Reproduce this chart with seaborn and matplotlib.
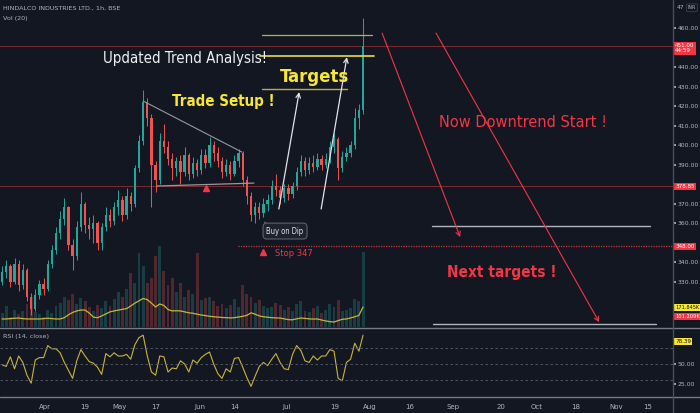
import numpy as np
import pandas as pd
import matplotlib
matplotlib.use("Agg")
import matplotlib.pyplot as plt
import seaborn as sns
from matplotlib import font_manager
from matplotlib.lines import Line2D

# ---------------- data (daily candles) ----------------
opens = [330, 335, 338, 330, 339, 328, 336, 322, 316, 323, 329, 326, 339, 346, 355,
         362, 368, 349, 343, 358, 370, 359, 357, 360, 350, 358, 364, 361, 368, 372,
         364, 374, 370, 388, 402, 422, 414, 390, 382, 402, 399, 393, 388, 392, 386,
         395, 385, 391, 387, 395, 391, 400, 396, 392, 386, 390, 385, 392, 396, 382,
         374, 364, 368, 365, 370, 372, 379, 377, 373, 378, 375, 379, 386, 392, 387,
         391, 389, 393, 390, 393, 399, 403, 388, 394, 396, 400, 414, 418]
highs = [338, 341, 339, 342, 341, 339, 337, 324, 326, 331, 332, 341, 349, 358, 366,
         373, 369, 352, 361, 376, 371, 363, 364, 361, 360, 368, 367, 371, 377, 374,
         378, 376, 390, 405, 428, 424, 416, 392, 406, 411, 402, 396, 394, 395, 399,
         396, 394, 393, 398, 398, 404, 402, 399, 394, 393, 392, 395, 398, 397, 384,
         376, 371, 371, 373, 375, 382, 385, 379, 380, 380, 381, 389, 395, 394, 394,
         395, 396, 395, 396, 402, 406, 404, 397, 399, 402, 419, 421, 465]
lows = [328, 332, 327, 329, 325, 326, 320, 313, 315, 321, 323, 325, 337, 344, 352,
        359, 346, 336, 341, 356, 355, 352, 350, 346, 346, 356, 358, 359, 364, 361,
        362, 366, 368, 386, 400, 410, 368, 376, 380, 396, 390, 382, 384, 380, 384,
        382, 383, 384, 385, 388, 389, 392, 389, 383, 384, 382, 384, 389, 379, 370,
        361, 360, 362, 363, 366, 370, 374, 370, 371, 372, 373, 377, 384, 384, 385,
        386, 387, 387, 388, 391, 396, 382, 386, 392, 394, 398, 408, 416]
closes = [335, 338, 330, 339, 328, 336, 322, 316, 323, 329, 326, 339, 346, 355, 362,
          368, 349, 343, 358, 370, 359, 357, 360, 350, 358, 364, 361, 368, 372, 364,
          374, 370, 388, 402, 422, 414, 390, 382, 402, 399, 393, 388, 392, 386, 395,
          385, 391, 387, 395, 391, 400, 396, 392, 386, 390, 385, 392, 396, 382, 374,
          364, 368, 365, 370, 372, 379, 377, 373, 378, 375, 379, 386, 392, 387, 391,
          389, 393, 390, 393, 399, 403, 388, 394, 396, 400, 414, 418, 451]
volume_k = [120, 180, 90, 150, 110, 140, 200, 260, 130, 110, 90,
            150, 120, 180, 210, 260, 230, 280, 200, 250, 220,
            170, 140, 190, 160, 220, 180, 240, 300, 260, 330,
            460, 380, 640, 520, 380, 420, 610, 700, 480, 360,
            420, 300, 380, 260, 320, 280, 640, 230, 250, 260,
            220, 180, 200, 160, 190, 240, 170, 360, 280, 260,
            210, 230, 180, 160, 170, 210, 190, 150, 170, 140,
            200, 220, 140, 130, 160, 180, 120, 150, 200, 170,
            230, 140, 150, 160, 240, 220, 645]
volume_ma_k = [69, 69, 72, 75, 77, 72, 69, 69, 69, 69, 72, 75, 72, 69, 69,
               80, 105, 125, 138, 146, 146, 120, 85, 80, 95, 112, 130, 138, 145, 152,
               158, 180, 205, 225, 245, 235, 205, 172, 198, 185, 150, 138, 140, 138, 130,
               122, 118, 110, 103, 98, 92, 88, 85, 82, 80, 78, 80, 86, 92, 100,
               122, 110, 95, 88, 84, 80, 78, 77, 70, 63, 62, 70, 77, 74, 70,
               68, 69, 60, 52, 46, 43, 55, 66, 69, 78, 88, 100, 172]
rsi = [49, 47, 59, 44, 60, 52, 36, 26, 55, 58, 58, 73, 69, 69, 64,
       52, 42, 32, 54, 68, 60, 53, 51, 46, 37, 63, 59, 64, 60, 60,
       62, 56, 74, 83, 86, 60, 40, 36, 60, 59, 40, 45, 44, 54, 50,
       40, 55, 51, 58, 62, 65, 50, 38, 32, 44, 40, 57, 58, 46, 33,
       22, 35, 47, 52, 48, 56, 63, 52, 44, 43, 62, 73, 67, 54, 52,
       60, 55, 60, 60, 68, 66, 32, 29, 52, 56, 76, 66, 86]

x_tick_pos = [10.4, 20.0, 28.4, 37.1, 47.7, 56.1, 68.7, 80.2, 88.7, 98.3,
              108.7, 120.2, 128.9, 138.3, 147.9, 155.7]
x_tick_labels = ["Apr", "19", "May", "17", "Jun", "14", "Jul", "19", "Aug", "16",
                 "Sep", "20", "Oct", "18", "Nov", "15"]
price_ticks = [330, 340, 360, 370, 390, 400, 410, 420, 430, 440, 460]
rsi_ticks = [25, 50]

last_price = 451.00
support_price = 378.85
stop_price = 348.00
vol_ma_last = "171.845K"
vol_last = "101.209K"
rsi_last = 78.39

df = pd.DataFrame({"i": np.arange(len(closes)), "open": opens, "high": highs,
                   "low": lows, "close": closes, "vol": volume_k,
                   "vol_ma": volume_ma_k, "rsi": rsi})

# ---------------- style ----------------
BG = "#131722"
UP = "#26a69a"
DN = "#ef5350"
TXT = "#b2b5be"
YEL = "#f7e733"
RED = "#f23645"
SEP = "#4a4e59"

sns.set_theme(style="dark", rc={"axes.facecolor": BG, "figure.facecolor": BG,
                                "axes.edgecolor": BG, "text.color": TXT,
                                "xtick.color": TXT, "ytick.color": TXT})
plt.rcParams["font.family"] = ["DejaVu Sans"]

names = {f.name for f in font_manager.fontManager.ttflist}
if "Liberation Sans Narrow" in names:
    AF = dict(family="Liberation Sans Narrow")
    k = 1.0
else:
    AF = dict(family="DejaVu Sans", fontstretch="condensed")
    k = 0.83

fig = plt.figure(figsize=(7.0, 4.13), dpi=100)
W, H = 700, 413
ax = fig.add_axes([0, 86 / H, 673 / W, 327 / H])
axr = fig.add_axes([0, 17 / H, 673 / W, 68 / H], sharex=ax)
axv = ax.twinx()
axv.set_zorder(0)
ax.set_zorder(1)
ax.patch.set_visible(False)
axv.patch.set_facecolor(BG)

XMIN, XMAX = -0.5, 161.7
ax.set_xlim(XMIN, XMAX)
ax.set_ylim(306.7, 474.4)
axv.set_ylim(0, 2810)
axr.set_ylim(10, 95)

# volume
vcol = [UP if c >= o else DN for o, c in zip(df.open, df.close)]
axv.bar(df.i, df.vol, width=0.7, color=vcol, alpha=0.28, linewidth=0)
sns.lineplot(data=df, x="i", y="vol_ma", ax=axv, color="#c9b43a", lw=0.9)
axv.set_yticks([])
axv.set_ylabel("")
for s in axv.spines.values():
    s.set_visible(False)

# candles
ccol = [UP if c >= o else DN for o, c in zip(df.open, df.close)]
ax.vlines(df.i, df.low, df.high, colors=ccol, lw=0.7, zorder=3)
body_bottom = np.minimum(df.open, df.close)
body_h = np.maximum(np.abs(df.close - df.open), 0.4)
ax.bar(df.i, body_h, bottom=body_bottom, width=0.55, color=ccol, linewidth=0, zorder=4)

# price axis
ax.yaxis.tick_right()
ax.set_yticks(price_ticks)
ax.set_yticklabels([f"{p:.2f}" for p in price_ticks])
ax.tick_params(axis="y", labelsize=4.4, length=2, pad=1.5, colors=TXT, direction="out")
ax.tick_params(axis="x", bottom=False, labelbottom=False)
for s in ax.spines.values():
    s.set_visible(False)
ax.set_ylabel("")
ax.set_xlabel("")

# horizontal levels
ax.axhline(last_price, color="#7d2b31", lw=0.7, zorder=2)
ax.axhline(support_price, color="#7d2b31", lw=0.7, zorder=2)
ax.plot([56.9, XMAX], [stop_price, stop_price], color="#c43a3f", lw=0.9,
        ls=(0, (1, 1)), zorder=2)

# target lines
ax.plot([62.7, 89.2], [456.4, 456.4], color="#b9b23a", lw=0.9, zorder=5)
ax.plot([62.2, 89.7], [445.8, 445.8], color="#d6cd3c", lw=1.3, zorder=5)
ax.plot([62.7, 83.1], [428.7, 428.7], color="#b9b23a", lw=1.0, zorder=5)

# triangle setup lines
ax.plot([34.0, 57.8], [422.6, 396.4], color="#9598a1", lw=0.8, zorder=5)
ax.plot([37.3, 60.7], [379.0, 380.5], color="#9598a1", lw=0.9, zorder=5)

# right-side target lines
ax.plot([103.6, 156.1], [358.5, 358.5], color="#b2b5be", lw=1.0, zorder=5)
ax.plot([103.9, 157.5], [308.2, 308.2], color="#b2b5be", lw=1.0, zorder=5)

# arrows
wa = dict(arrowstyle="->", color="#e0e3eb", lw=0.9, mutation_scale=8,
          shrinkA=0, shrinkB=0)
ax.annotate("", xy=(71.6, 427.2), xytext=(66.7, 367.2), arrowprops=wa, zorder=6)
ax.annotate("", xy=(83.1, 445.1), xytext=(76.9, 367.2), arrowprops=wa, zorder=6)
ra = dict(arrowstyle="->", color=RED, lw=0.8, mutation_scale=8, shrinkA=0, shrinkB=0)
ax.annotate("", xy=(110.4, 352.8), xytext=(91.6, 457.4), arrowprops=ra, zorder=6)
ax.annotate("", xy=(143.9, 309.2), xytext=(104.6, 457.4), arrowprops=ra, zorder=6)

# markers
ax.plot([49.2], [378.0], marker="^", ms=4, color=RED, ls="none", zorder=6)
ax.plot([62.9], [345.1], marker="^", ms=4, color=RED, ls="none", zorder=6)

# annotation texts
ax.text(44.1, 444.5, "Updated Trend Analysis!", color="#eceff4", fontsize=13 * k,
        ha="center", va="center", zorder=7, **AF)
ax.text(75.2, 434.9, "Targets", color=YEL, fontsize=16 * k, fontweight="bold",
        ha="center", va="center", zorder=7, **AF)
ax.text(53.3, 422.1, "Trade Setup !", color=YEL, fontsize=13 * k, fontweight="bold",
        ha="center", va="center", zorder=7, **AF)
ax.text(125.5, 411.8, "Now Downtrend Start !", color=RED, fontsize=14.1 * k,
        ha="center", va="center", zorder=7, **AF)
ax.text(120.5, 334.9, "Next targets !", color=RED, fontsize=13.3 * k,
        fontweight="bold", ha="center", va="center", zorder=7, **AF)
ax.annotate("Buy on Dip", xy=(63.2, 360.5), xytext=(68.2, 355.9), color="#e0e3eb",
            fontsize=6 * k + 0.5, ha="center", va="center", zorder=7,
            bbox=dict(boxstyle="round,pad=0.45,rounding_size=0.5", fc="#1e222d",
                      ec="#5d606b", lw=0.8),
            arrowprops=dict(arrowstyle="-", color="#5d606b", lw=0.8, shrinkA=0, shrinkB=0),
            **AF)
ax.text(70.4, 344.6, "Stop 347", color=RED, fontsize=7.5 * k + 0.5,
        ha="center", va="center", zorder=7, **AF)

# header texts
ax.text(0.004, 0.976, "HINDALCO INDUSTRIES LTD., 1h, BSE", transform=ax.transAxes,
        fontsize=4.6, color=TXT, ha="left", va="center")
ax.text(0.004, 0.942, "Vol (20)", transform=ax.transAxes, fontsize=4.6, color=TXT,
        ha="left", va="center")


def price_box(a, y, label, fc, tc="white", fs=4.1):
    a.text(1.003, y, label, transform=a.get_yaxis_transform(), fontsize=fs, color=tc,
           ha="left", va="center", clip_on=False, zorder=10, linespacing=1.0,
           bbox=dict(boxstyle="square,pad=0.22", fc=fc, ec=fc, lw=0))


price_box(ax, last_price - 1.4, f"{last_price:.2f}\n44:59", RED)
price_box(ax, support_price, f"{support_price:.2f}", RED)
price_box(ax, stop_price, f"{stop_price:.2f}", RED)
price_box(ax, 316.8, vol_ma_last, "#f5e733", tc="#131722", fs=3.7)
price_box(ax, 312.1, vol_last, RED, fs=3.7)
ax.text(1.006, 470.4, "47", transform=ax.get_yaxis_transform(), fontsize=4.4,
        color=TXT, ha="left", va="center", clip_on=False, zorder=9)
ax.text(1.022, 470.4, "INR", transform=ax.get_yaxis_transform(), fontsize=3.4,
        color=TXT, ha="left", va="center", clip_on=False, zorder=10,
        bbox=dict(boxstyle="round,pad=0.3", fc=BG, ec="#434651", lw=0.5))

# RSI pane
sns.lineplot(data=df, x="i", y="rsi", ax=axr, color="#c9b43a", lw=0.8)
for lvl in (70, 50, 30):
    axr.axhline(lvl, color="#5d606b", lw=0.6, ls=(0, (3, 3)))
axr.yaxis.tick_right()
axr.set_yticks(rsi_ticks)
axr.set_yticklabels([f"{v:.2f}" for v in rsi_ticks])
axr.tick_params(axis="y", labelsize=4.4, length=2, pad=1.5, colors=TXT)
axr.set_xticks(x_tick_pos)
axr.set_xticklabels(x_tick_labels)
axr.tick_params(axis="x", labelsize=5, length=2, pad=4, colors=TXT)
axr.set_xlim(XMIN, XMAX)
axr.set_xlabel("")
axr.set_ylabel("")
for s in axr.spines.values():
    s.set_visible(False)
axr.text(0.004, 0.87, "RSI (14, close)", transform=axr.transAxes, fontsize=4.6,
         color=TXT, ha="left", va="center")
price_box(axr, rsi_last, f"{rsi_last:.2f}", "#f5e733", tc="#131722")

# pane separators
fig.add_artist(Line2D([0, 1], [1 - 327.5 / H] * 2, transform=fig.transFigure,
                      color="#787b86", lw=1.0))
fig.add_artist(Line2D([0, 1], [1 - 396.5 / H] * 2, transform=fig.transFigure,
                      color="#787b86", lw=1.0))
fig.add_artist(Line2D([673 / W] * 2, [0, 1], transform=fig.transFigure,
                      color=SEP, lw=1.0))

fig.savefig("out.png", dpi=100, facecolor=BG)
